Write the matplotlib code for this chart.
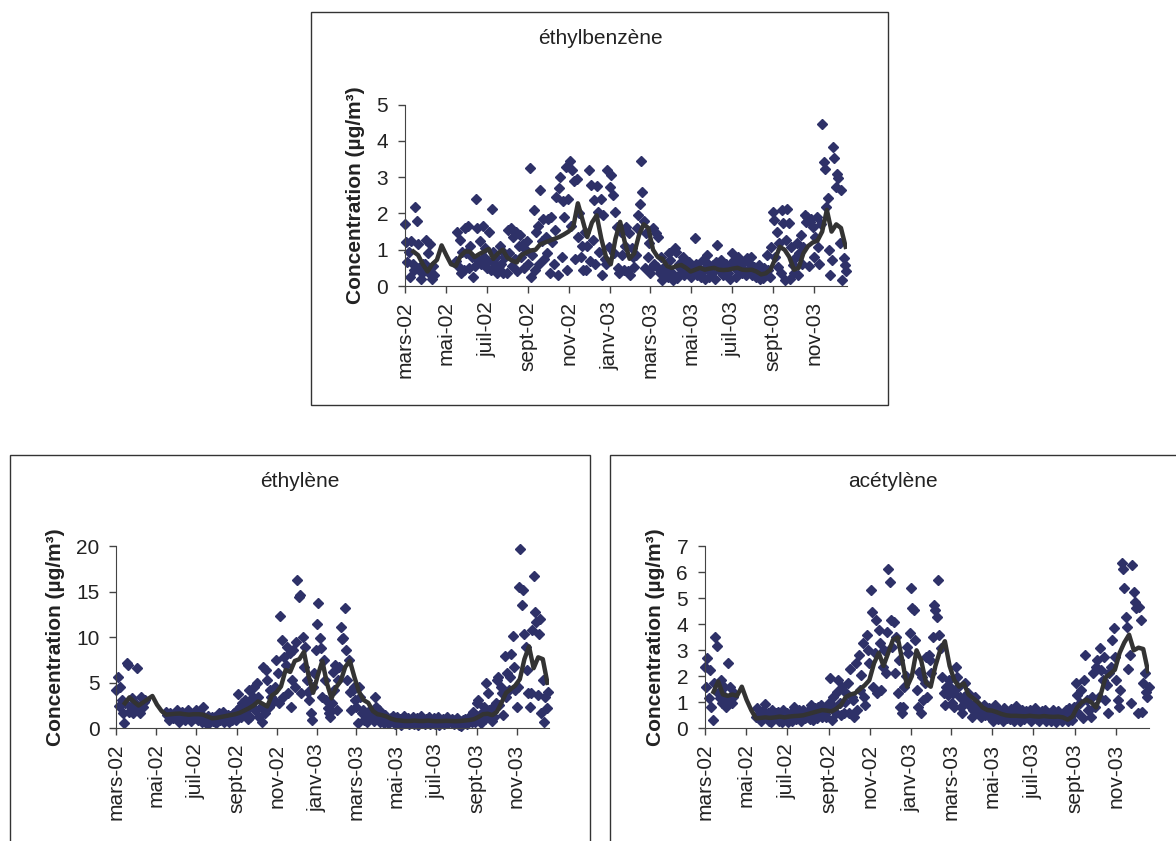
import numpy as np
import pandas as pd
import matplotlib
matplotlib.use('Agg')
import matplotlib.pyplot as plt
from matplotlib.patches import Rectangle

plt.rcParams['font.family'] = ['Liberation Sans', 'DejaVu Sans']

nan = np.nan

# month tick labels (2-month steps)
tick_dates = ['2002-03-01', '2002-05-01', '2002-07-01', '2002-09-01', '2002-11-01', '2003-01-01',
              '2003-03-01', '2003-05-01', '2003-07-01', '2003-09-01', '2003-11-01']
tick_labels = ['mars-02', 'mai-02', 'juil-02', 'sept-02', 'nov-02', 'janv-03',
               'mars-03', 'mai-03', 'juil-03', 'sept-03', 'nov-03']

# measurements every 2 days from 2002-03-01 (one row ~ 30 days)
ethylbenzene = [
    1.7, 1.2, 0.65, 0.95, 0.25, 1.25, 0.6, 0.45, 2.17, 1.78, 1.15, 0.5, 0.2, 0.35, 0.6,
    0.6, 1.27, 0.9, 0.35, 1.15, 0.2, 0.55, 0.3, nan, nan, nan, nan, nan, nan, nan,
    nan, nan, nan, nan, nan, nan, nan, nan, 0.7, 1.5, 0.55, 1.27, 0.35, 0.95, 0.45,
    1.6, 0.9, 1.65, 0.5, 1.1, 0.8, 0.25, 0.55, 2.4, 1.6, 0.7, 1.25, 0.6, 1.65, 0.8,
    1.05, 0.5, 0.7, 1.5, 0.45, 2.12, 0.95, 0.6, 0.8, 0.35, 0.55, 1.1, 0.6, 0.35, 0.9,
    0.8, 0.35, 1.55, 0.9, 1.6, 0.55, 1.35, 0.75, 1.5, 0.4, 1.1, 1.4, 0.8, 1.15, 0.5,
    1.0, 1.25, 0.6, 3.25, 0.25, 0.85, 2.1, 0.45, 1.5, 1.65, 0.6, 2.65, 1.25, 1.85, 0.75,
    1.35, 0.9, 1.85, 0.35, 1.9, 1.2, 0.6, 1.55, 2.45, 0.3, 2.7, 3.0, 0.8, 2.35, 1.9,
    3.28, 0.45, 2.4, 3.45, 1.65, 3.2, 2.9, 0.75, 2.95, 1.35, 2.0, 0.8, 1.1, 0.45, 1.5,
    0.45, 1.1, 3.2, 0.7, 2.78, 1.27, 2.37, 0.62, 2.75, 2.05, 0.95, 2.4, 0.3, 1.95, 0.75,
    0.62, 3.2, 1.08, 2.73, 3.05, 2.5, 0.9, 2.05, 1.63, 0.5, 0.35, 1.5, 0.85, 0.45, 1.1,
    1.63, 0.4, 1.45, 0.3, 1.04, 0.8, 0.53, 0.85, 1.6, 1.95, 2.27, 3.45, 2.6, 1.8, 0.5,
    1.45, 0.8, 1.18, 0.35, 0.53, 1.6, 0.62, 1.45, 0.53, 1.36, 0.35, 0.8, 0.17, 0.53, 0.35,
    0.49, 0.26, 0.9, 0.72, 0.35, 0.17, 1.04, 0.95, 0.21, 0.62, 0.49, 0.35, 0.8, 0.3, 0.55,
    0.53, 0.4, 0.67, 0.26, 0.35, 0.53, 1.33, 0.62, 0.3, 0.49, 0.35, 0.26, 0.72, 0.45, 0.2,
    0.85, 0.62, 0.26, 0.49, 0.35, 0.58, 0.2, 0.67, 1.13, 0.53, 0.4, 0.72, 0.3, 0.45, 0.6,
    0.53, 0.35, 0.2, 0.62, 0.9, 0.72, 0.49, 0.26, 0.8, 0.4, 0.58, 0.35, 0.67, 0.45, 0.3,
    0.76, 0.45, 0.62, 0.8, 0.3, 0.53, 0.35, 0.26, 0.4, 0.58, 0.2, 0.35, 0.21, 0.49, 0.3,
    0.85, 0.45, 0.26, 1.08, 2.05, 1.82, 0.8, 1.5, 0.53, 1.18, 0.35, 2.1, 1.73, 0.17, 1.27,
    2.12, 1.74, 0.2, 1.08, 0.58, 0.35, 0.76, 1.18, 0.3, 0.9, 1.4, 0.62, 1.08, 1.96, 1.77,
    1.9, 0.55, 1.77, 1.86, 1.63, 0.8, 1.36, 1.9, 1.08, 0.62, 1.72, 4.46, 3.42, 3.24, 2.18,
    2.42, 0.99, 0.3, 0.72, 3.84, 3.52, 2.74, 3.1, 2.97, 1.18, 2.65, 0.17, 0.76, 0.58, 0.4,
]

ethylene = [
    4.2, 5.67, 2.4, 4.57, 3.1, 1.65, 0.55, 2.75, 7.13, 6.95, 1.83, 2.38, 3.3, 1.65, 2.75,
    2.0, 6.58, 2.38, 1.65, 3.47, 2.38, 2.92, 3.1, nan, nan, nan, nan, nan, nan, nan,
    nan, nan, nan, nan, nan, nan, nan, nan, 1.83, 1.46, 0.9, 1.65, 1.28, 1.1, 1.5,
    1.65, 2.0, 1.28, 0.73, 1.46, 1.83, 1.1, 0.9, 1.65, 1.28, 2.0, 1.2, 0.8, 1.5, 1.1,
    1.3, 2.0, 0.9, 1.65, 1.1, 0.73, 2.38, 1.2, 0.6, 1.1, 1.4, 0.55, 1.0, 1.28, 0.8,
    1.28, 0.55, 1.1, 1.65, 0.9, 1.2, 1.83, 0.7, 1.28, 1.0, 1.5, 0.73, 1.3, 0.9, 1.6,
    1.65, 0.9, 2.0, 3.77, 2.38, 1.28, 2.75, 1.5, 3.1, 2.0, 1.0, 4.2, 1.28, 2.6, 3.4,
    4.57, 2.0, 4.94, 3.47, 1.2, 2.38, 0.73, 6.76, 1.65, 6.4, 5.3, 2.38, 4.2, 3.47, 2.8,
    3.1, 4.57, 7.5, 6.03, 2.75, 12.3, 9.7, 3.47, 7.86, 6.95, 8.96, 3.84, 8.23, 2.38, 5.3,
    8.6, 4.5, 9.5, 16.3, 14.4, 14.6, 3.84, 10.05, 6.76, 8.96, 5.3, 4.0, 3.1, 1.65, 0.9,
    4.57, 6.03, 8.6, 11.5, 13.8, 9.87, 8.78, 3.47, 7.5, 5.3, 3.1, 2.2, 1.65, 1.28, 2.75,
    6.2, 4.2, 6.95, 2.0, 5.3, 6.76, 11.15, 9.76, 9.87, 13.2, 8.6, 5.3, 7.5, 4.0, 2.0,
    4.2, 4.57, 3.1, 2.38, 0.55, 4.57, 3.47, 1.65, 2.0, 0.9, 1.28, 0.73, 1.65, 2.0, 1.2,
    1.65, 0.8, 3.47, 2.38, 1.2, 2.0, 0.7, 1.28, 1.0, 0.6, 1.5, 0.73, 0.9, 0.55, 1.1,
    0.9, 1.3, 0.5, 0.8, 1.2, 0.6, 1.0, 0.4, 0.9, 1.3, 0.6, 0.8, 1.1, 0.5, 0.9,
    0.7, 1.2, 0.5, 0.9, 1.1, 0.4, 0.8, 1.3, 0.6, 0.9, 0.5, 1.0, 0.7, 1.2, 0.5,
    0.9, 0.6, 1.1, 0.5, 0.8, 1.2, 0.4, 0.9, 0.7, 1.0, 0.5, 0.8, 1.2, 0.6, 0.9,
    0.7, 1.0, 0.5, 0.9, 0.6, 1.1, 0.4, 0.8, 0.3, 0.9, 0.6, 1.0, 0.5, 0.8, 1.2,
    1.28, 0.7, 1.83, 0.73, 1.2, 2.75, 3.1, 1.5, 0.55, 1.65, 2.38, 1.0, 4.94, 3.84, 2.0,
    1.65, 0.8, 2.38, 1.2, 2.75, 5.3, 5.67, 2.56, 4.57, 3.84, 1.46, 7.93, 3.47, 6.03, 4.2,
    5.67, 8.2, 10.1, 6.76, 4.2, 2.38, 4.57, 15.5, 19.7, 13.5, 15.2, 10.4, 8.96, 6.4, 3.84,
    2.38, 3.84, 10.8, 16.7, 12.8, 11.7, 3.66, 10.4, 12.0, 1.65, 5.3, 0.73, 3.47, 2.2, 4.0,
]

acetylene = [
    2.37, 1.6, 2.69, 1.15, 2.24, 0.83, 0.32, 1.73, 3.53, 3.17, 1.35, 1.15, 1.86, 0.96, 1.6,
    1.22, 0.83, 2.53, 1.09, 1.6, 0.96, 1.22, 1.35, nan, nan, nan, nan, nan, nan, nan,
    nan, nan, nan, nan, nan, nan, nan, nan, 0.45, 0.77, 0.38, 0.58, 0.3, 0.65, 0.5,
    0.94, 0.5, 0.58, 0.3, 0.26, 0.7, 0.45, 0.38, 0.6, 0.64, 0.3, 0.5, 0.26, 0.7, 0.4,
    0.45, 0.6, 0.26, 0.4, 0.58, 0.3, 0.83, 0.5, 0.35, 0.51, 0.7, 0.3, 0.55, 0.7, 0.4,
    0.45, 0.6, 0.7, 0.35, 0.9, 0.32, 0.58, 0.8, 0.4, 0.83, 0.6, 0.9, 0.45, 0.7, 0.55,
    0.45, 0.7, 0.96, 1.92, 0.32, 1.22, 0.83, 0.6, 1.41, 1.86, 0.96, 0.5, 1.6, 0.58, 1.0,
    1.35, 1.73, 0.6, 2.3, 1.22, 1.09, 0.45, 2.5, 0.7, 2.82, 1.47, 2.05, 3.27, 1.22, 0.9,
    3.59, 3.01, 2.5, 5.32, 4.49, 1.6, 2.88, 4.17, 1.35, 3.78, 3.27, 1.47, 2.37, 3.01, 2.12,
    3.72, 6.12, 5.64, 4.17, 3.14, 4.1, 2.12, 3.53, 1.35, 2.63, 0.83, 0.58, 0.83, 1.6, 2.0,
    3.14, 2.88, 3.65, 5.38, 4.62, 4.55, 3.4, 1.47, 0.83, 2.18, 0.58, 1.99, 1.09, 1.73, 2.76,
    1.22, 2.82, 2.63, 2.12, 3.53, 4.74, 4.55, 4.3, 5.7, 3.59, 3.08, 1.99, 1.35, 0.9, 1.6,
    1.28, 1.86, 1.6, 0.96, 1.35, 0.83, 2.37, 1.99, 1.6, 1.22, 0.83, 0.58, 1.22, 1.73, 1.0,
    1.35, 0.96, 0.83, 0.45, 0.7, 1.22, 0.96, 0.58, 0.8, 0.7, 0.45, 0.6, 0.9, 0.5, 0.7,
    0.5, 0.8, 0.4, 0.65, 0.3, 0.9, 0.55, 0.35, 0.7, 0.45, 0.6, 0.3, 0.8, 0.5, 0.4,
    0.6, 0.35, 0.75, 0.45, 0.3, 0.6, 0.85, 0.4, 0.55, 0.3, 0.7, 0.45, 0.35, 0.65, 0.5,
    0.4, 0.7, 0.3, 0.55, 0.45, 0.8, 0.35, 0.6, 0.3, 0.5, 0.65, 0.4, 0.7, 0.3, 0.55,
    0.45, 0.6, 0.3, 0.7, 0.4, 0.25, 0.55, 0.65, 0.35, 0.5, 0.3, 0.6, 0.4, 0.7, 0.3,
    0.77, 0.45, 0.32, 0.6, 0.83, 1.73, 1.28, 0.58, 0.96, 1.47, 0.4, 1.86, 2.82, 1.09, 0.7,
    0.7, 0.45, 1.22, 2.12, 0.83, 2.37, 2.63, 1.22, 3.08, 2.24, 1.86, 2.76, 1.09, 1.67, 0.58,
    2.12, 2.37, 3.4, 3.85, 2.76, 1.86, 1.09, 0.83, 1.47, 6.37, 6.12, 5.38, 4.3, 3.91, 2.3,
    2.82, 0.96, 6.28, 5.26, 4.87, 4.62, 0.58, 4.68, 4.17, 0.64, 1.73, 2.12, 1.41, 1.22, 1.6,
]

# smoothed curves, weekly from 2002-03-14
ethylbenzene_avg = [
    0.95, 0.85, 0.6, 0.4, 0.6, 0.72, 1.12, 0.85, 0.6, 0.55,
    0.82, 0.95, 0.95, 0.8, 0.88, 0.95, 1.02, 0.75, 0.9, 1.0,
    0.78, 0.7, 0.65, 0.85, 0.92, 0.98, 1.0, 1.15, 1.2, 1.25,
    1.3, 1.35, 1.42, 1.5, 1.62, 2.28, 1.82, 1.35, 1.75, 1.95,
    1.3, 0.8, 0.6, 1.3, 1.77, 1.2, 0.75, 0.9, 1.4, 1.7,
    1.6, 1.0, 0.8, 0.75, 0.55, 0.5, 0.55, 0.58, 0.5, 0.4,
    0.45, 0.5, 0.45, 0.48, 0.5, 0.45, 0.44, 0.45, 0.48, 0.5,
    0.45, 0.44, 0.45, 0.4, 0.32, 0.35, 0.45, 0.75, 1.08, 1.0,
    0.8, 0.45, 0.5, 0.9, 1.1, 1.2, 1.25, 1.5, 2.1, 1.5,
    1.7, 1.6, 1.08,
]
ethylene_avg = [
    2.75, 3.4, 2.9, 2.5, 2.85, 3.2, 3.55, 2.6, 1.9, 1.5,
    1.55, 1.6, 1.62, 1.55, 1.5, 1.55, 1.55, 1.5, 1.3, 1.1,
    1.15, 1.25, 1.35, 1.45, 1.55, 1.7, 1.95, 2.2, 2.5, 2.95,
    2.7, 2.4, 3.6, 3.95, 4.6, 6.4, 6.2, 7.4, 7.6, 8.4,
    5.8, 3.9, 5.8, 7.4, 4.94, 3.3, 4.5, 5.2, 6.76, 7.4,
    5.6, 4.0, 3.1, 2.8, 1.9, 1.55, 1.45, 1.3, 1.05, 0.9,
    0.85, 0.8, 0.8, 0.85, 0.8, 0.8, 0.85, 0.8, 0.78, 0.8,
    0.82, 0.8, 0.78, 0.8, 0.85, 0.9, 1.0, 1.25, 1.55, 1.6,
    1.45, 1.8, 2.8, 3.9, 4.3, 4.7, 5.4, 7.6, 9.0, 6.6,
    7.8, 7.6, 5.0,
]
acetylene_avg = [
    1.4, 1.8, 1.3, 1.25, 1.3, 1.25, 1.6, 1.1, 0.7, 0.38,
    0.4, 0.42, 0.4, 0.42, 0.45, 0.42, 0.45, 0.47, 0.48, 0.5,
    0.55, 0.6, 0.65, 0.7, 0.68, 0.65, 0.75, 0.9, 1.2, 1.3,
    1.35, 1.5, 1.65, 1.85, 2.5, 2.9, 2.4, 2.9, 3.4, 3.5,
    2.6, 1.6, 2.0, 3.0, 2.6, 1.75, 1.6, 2.4, 3.0, 3.35,
    2.4, 1.85, 1.6, 1.73, 1.3, 1.15, 1.0, 0.8, 0.7, 0.68,
    0.62, 0.55, 0.5, 0.48, 0.48, 0.47, 0.46, 0.48, 0.46, 0.45,
    0.47, 0.45, 0.44, 0.45, 0.42, 0.33, 0.45, 0.8, 1.0, 1.1,
    1.0, 0.8, 1.3, 1.95, 2.1, 2.25, 2.9, 3.3, 3.6, 3.0,
    3.1, 3.05, 2.2,
]

fig = plt.figure(figsize=(11.76, 8.41), dpi=100)
W, H = 1176, 841

txt = '#222222'
axc = '#444444'


def panel(rect_px, vals, avg, ymax, ystep, title, title_xy):
    l, t, r, b = rect_px
    ax = fig.add_axes([l / W, 1 - b / H, (r - l) / W, (b - t) / H])
    d = pd.date_range('2002-03-01', periods=len(vals), freq='2D')
    ax.plot(d, vals, linestyle='none', marker='D', ms=5, color='#2E3168', mec='#2E3168', clip_on=False)
    da = pd.date_range('2002-03-14', periods=len(avg), freq='7D')
    ax.plot(da, avg, color='#333333', lw=3.2, solid_joinstyle='round')
    ax.set_xlim(pd.Timestamp('2002-03-01'), pd.Timestamp('2003-12-20'))
    ax.set_ylim(0, ymax)
    ax.set_yticks(np.arange(0, ymax + 0.01, ystep))
    ax.set_xticks(pd.to_datetime(tick_dates))
    ax.set_xticklabels(tick_labels, rotation=90)
    ax.tick_params(direction='out', length=5, width=1, color=axc, labelsize=15,
                   labelcolor=txt)
    ax.tick_params(axis='x', pad=6)
    ax.tick_params(axis='y', pad=7)
    for s in ['top', 'right']:
        ax.spines[s].set_visible(False)
    for s in ['left', 'bottom']:
        ax.spines[s].set_color(axc)
    ax.set_ylabel('Concentration (µg/m³)', fontsize=15, fontweight='bold', color=txt, labelpad=8)
    fig.text(title_xy[0] / W, 1 - title_xy[1] / H, title, ha='center', va='baseline',
             fontsize=15, color=txt)
    return ax


panel((404.7, 104.7, 847, 286), ethylbenzene, ethylbenzene_avg, 5, 1, 'éthylbenzène', (600, 44.5))
panel((116.3, 546.3, 548.7, 728.3), ethylene, ethylene_avg, 20, 5, 'éthylène', (300, 487))
panel((704.7, 546.3, 1149.3, 728.3), acetylene, acetylene_avg, 7, 1, 'acétylène', (893, 487))

# frames around each chart
for x0, y0, x1, y1 in [(311, 12, 888, 405), (10, 454.7, 590, 860), (609.7, 454.7, 1190, 860)]:
    fig.add_artist(Rectangle((x0 / W, 1 - y1 / H), (x1 - x0) / W, (y1 - y0) / H,
                             transform=fig.transFigure, fill=False, lw=1, ec='#333333'))

fig.savefig('out.png', dpi=100)
